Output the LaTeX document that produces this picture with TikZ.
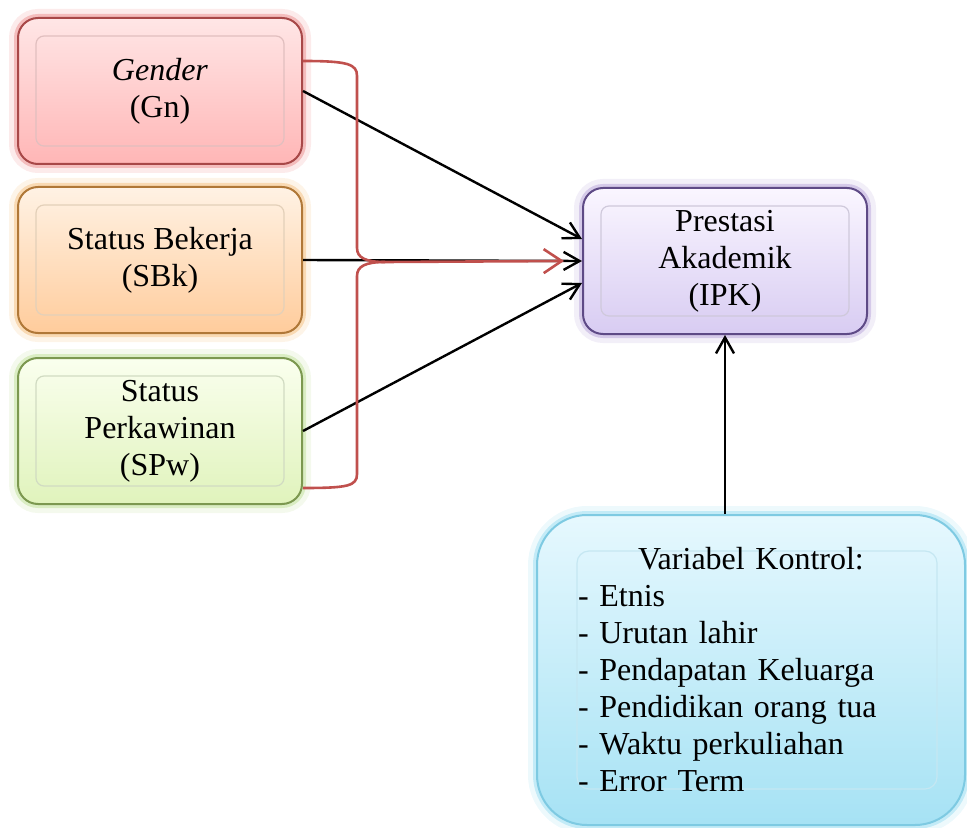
\documentclass[tikz,border=0pt]{standalone}
\usepackage{fontspec}
\setmainfont{Liberation Serif}
\usetikzlibrary{arrows.meta}

\definecolor{gntop}{HTML}{FFE6E6}
\definecolor{gnbot}{HTML}{FFB6B6}
\definecolor{gnline}{HTML}{A84848}
\definecolor{gnglow}{HTML}{E87878}
\definecolor{sbktop}{HTML}{FFF2E4}
\definecolor{sbkbot}{HTML}{FFCC9C}
\definecolor{sbkline}{HTML}{B07838}
\definecolor{sbkglow}{HTML}{F2B466}
\definecolor{spwtop}{HTML}{FAFFEE}
\definecolor{spwbot}{HTML}{E0F3BC}
\definecolor{spwline}{HTML}{7C9850}
\definecolor{spwglow}{HTML}{B4DA84}
\definecolor{ipktop}{HTML}{FAF6FF}
\definecolor{ipkbot}{HTML}{D8CCF2}
\definecolor{ipkline}{HTML}{5E4A86}
\definecolor{ipkglow}{HTML}{AA92D2}
\definecolor{ctltop}{HTML}{E6F8FE}
\definecolor{ctlbot}{HTML}{A6E2F4}
\definecolor{ctlline}{HTML}{7ECAE2}
\definecolor{ctlglow}{HTML}{84D6EE}
\definecolor{bracered}{HTML}{C0504D}

\tikzset{
  varbox/.style={rounded corners=10pt, minimum width=142pt, minimum height=73pt,
    align=center, font=\fontsize{16}{18.5}\selectfont, line width=1pt},
  glow/.style={preaction={draw=#1, line width=9pt, opacity=.15},
    preaction={draw=#1, line width=4pt, opacity=.4}},
  inbox/.style={path picture={\draw[draw=#1, line width=.6pt, rounded corners=4pt]
    ([shift={(9pt,-9pt)}]path picture bounding box.north west) rectangle
    ([shift={(-9pt,9pt)}]path picture bounding box.south east);}},
  ctlinbox/.style={path picture={\draw[draw=#1, line width=.6pt, rounded corners=6pt]
    ([shift={(20pt,-18pt)}]path picture bounding box.north west) rectangle
    ([shift={(-14pt,18pt)}]path picture bounding box.south east);}},
  arr/.style={line width=1.2pt, -{Straight Barb[length=8pt,width=9pt]}},
  brace/.style={draw=bracered, line width=1.3pt},
}

\begin{document}
\begin{tikzpicture}[x=0.5pt,y=-0.5pt]
\useasboundingbox (0,0) rectangle (967,828);

% variables
\node[varbox, glow=gnglow, draw=gnline, top color=gntop, bottom color=gnbot,
  inbox=gnline!35] (gn) at (160,91) {\textit{Gender}\\(Gn)};
\node[varbox, glow=sbkglow, draw=sbkline, top color=sbktop, bottom color=sbkbot,
  inbox=sbkline!35] (sbk) at (160,260) {Status Bekerja\\(SBk)};
\node[varbox, glow=spwglow, draw=spwline, top color=spwtop, bottom color=spwbot,
  inbox=spwline!35] (spw) at (160,431) {Status\\Perkawinan\\(SPw)};
\node[varbox, glow=ipkglow, draw=ipkline, top color=ipktop, bottom color=ipkbot,
  inbox=ipkline!30] (ipk) at (725,261) {Prestasi\\Akademik\\(IPK)};
\node[varbox, glow=ctlglow, draw=ctlline, top color=ctltop, bottom color=ctlbot,
  ctlinbox=ctlline!45, minimum width=214pt, minimum height=155pt,
  rounded corners=25pt, text width=173pt, align=left]
  (ctl) at (751,670) {\makebox[173pt]{Variabel Kontrol:}\\- Etnis\\- Urutan lahir\\
  - Pendapatan Keluarga\\- Pendidikan orang tua\\- Waktu perkuliahan\\- Error Term};

% paths
\draw[arr] (gn.east) -- ([yshift=11pt]ipk.west);
\draw[arr] (sbk.east) -- (ipk.west);
\draw[arr] (spw.east) -- ([yshift=-11pt]ipk.west);
\draw[arr] (ipk.south |- ctl.north) -- (ipk.south);

% joint effect
\coordinate (gnR) at ([yshift=15pt]gn.east);
\coordinate (spwR) at ([yshift=-28.5pt]spw.east);
\coordinate (join) at (385,262);

\draw[brace] (gnR) .. controls (348,61) and (357,64) .. (357,76) -- (357,248)
  .. controls (357,258) and (366,262) .. (join);
\draw[brace] (spwR) .. controls (348,488) and (357,486) .. (357,474) -- (357,276)
  .. controls (357,266) and (366,262) .. (join);
\draw[brace, -{Straight Barb[length=9pt,width=12pt]}] (join) -- ([xshift=-9pt]ipk.west);

\end{tikzpicture}
\end{document}
